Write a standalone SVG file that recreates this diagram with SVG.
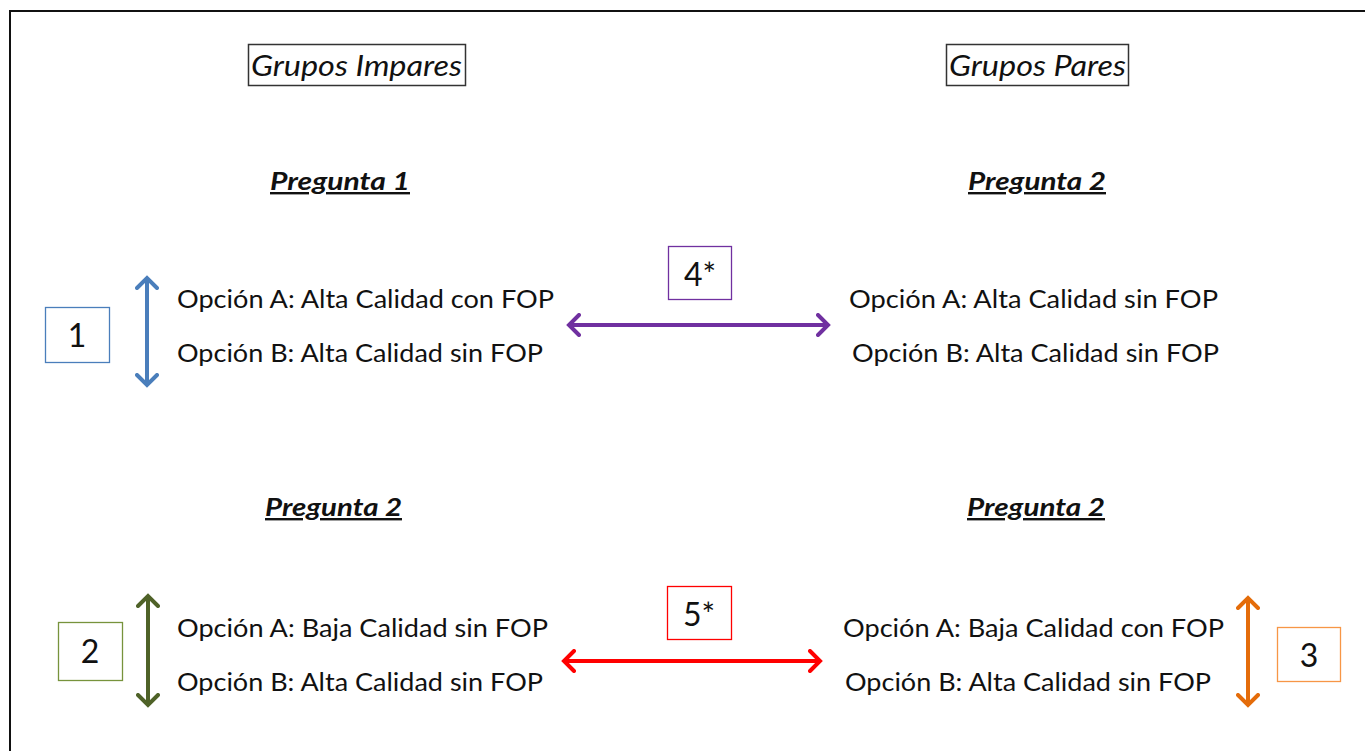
<svg xmlns="http://www.w3.org/2000/svg" width="1365" height="751" viewBox="0 0 1365 751">
<style>
.opt{font-family:Lato,"Open Sans","Liberation Sans",sans-serif;font-size:25px;fill:#111}
.hdr{font-family:Lato,"Open Sans","Liberation Sans",sans-serif;font-size:28px;font-style:italic;fill:#111}
.q{font-family:Lato,"Open Sans","Liberation Sans",sans-serif;font-size:24px;font-style:italic;font-weight:bold;fill:#111;text-decoration:underline}
.num{font-family:Lato,"Open Sans","Liberation Sans",sans-serif;font-size:32px;fill:#111;text-anchor:middle}
.box{fill:#fff;stroke-width:1.3}
.arr{fill:none;stroke-width:4}
</style>
<defs>
<marker id="mBlue" viewBox="-12 -12 24 24" markerUnits="userSpaceOnUse" markerWidth="24" markerHeight="24" refX="0" refY="0" orient="auto-start-reverse"><path d="M-10,-10 L0,0 L-10,10" fill="none" stroke="#4A7EBB" stroke-width="4" stroke-linecap="round"/></marker>
<marker id="mPurple" viewBox="-12 -12 24 24" markerUnits="userSpaceOnUse" markerWidth="24" markerHeight="24" refX="0" refY="0" orient="auto-start-reverse"><path d="M-10,-10 L0,0 L-10,10" fill="none" stroke="#7030A0" stroke-width="4" stroke-linecap="round"/></marker>
<marker id="mGreen" viewBox="-12 -12 24 24" markerUnits="userSpaceOnUse" markerWidth="24" markerHeight="24" refX="0" refY="0" orient="auto-start-reverse"><path d="M-10,-10 L0,0 L-10,10" fill="none" stroke="#4F6228" stroke-width="4" stroke-linecap="round"/></marker>
<marker id="mRed" viewBox="-12 -12 24 24" markerUnits="userSpaceOnUse" markerWidth="24" markerHeight="24" refX="0" refY="0" orient="auto-start-reverse"><path d="M-10,-10 L0,0 L-10,10" fill="none" stroke="#FF0000" stroke-width="4" stroke-linecap="round"/></marker>
<marker id="mOrange" viewBox="-12 -12 24 24" markerUnits="userSpaceOnUse" markerWidth="24" markerHeight="24" refX="0" refY="0" orient="auto-start-reverse"><path d="M-10,-10 L0,0 L-10,10" fill="none" stroke="#E46C0A" stroke-width="4" stroke-linecap="round"/></marker>
</defs>
<rect width="1365" height="751" fill="#fff"/>
<path d="M10,760 L10,11 L1375,11" fill="none" stroke="#111" stroke-width="2"/>

<g id="hdr-impares">
<rect x="248.5" y="44.5" width="217" height="41" fill="#fff" stroke="#333" stroke-width="1.5"/>
<text class="hdr" x="251" y="76" textLength="211" lengthAdjust="spacingAndGlyphs">Grupos Impares</text>
</g>
<g id="hdr-pares">
<rect x="946.5" y="44.5" width="182" height="41" fill="#fff" stroke="#333" stroke-width="1.5"/>
<text class="hdr" x="949" y="76" textLength="177" lengthAdjust="spacingAndGlyphs">Grupos Pares</text>
</g>

<g id="q1-left"><text class="q" x="270" y="190" textLength="140" lengthAdjust="spacingAndGlyphs">Pregunta 1</text></g>
<g id="q2-topright"><text class="q" x="968" y="190" textLength="138" lengthAdjust="spacingAndGlyphs">Pregunta 2</text></g>
<g id="q2-bottomleft"><text class="q" x="265" y="516" textLength="137" lengthAdjust="spacingAndGlyphs">Pregunta 2</text></g>
<g id="q2-bottomright"><text class="q" x="967" y="516" textLength="138" lengthAdjust="spacingAndGlyphs">Pregunta 2</text></g>

<g id="opts-tl">
<text class="opt" x="177" y="308" textLength="377" lengthAdjust="spacingAndGlyphs">Opción A: Alta Calidad  con FOP</text>
<text class="opt" x="177" y="362" textLength="366" lengthAdjust="spacingAndGlyphs">Opción B: Alta Calidad sin FOP</text>
</g>
<g id="opts-tr">
<text class="opt" x="849" y="308" textLength="369" lengthAdjust="spacingAndGlyphs">Opción A: Alta Calidad sin FOP</text>
<text class="opt" x="852" y="362" textLength="367" lengthAdjust="spacingAndGlyphs">Opción B: Alta Calidad sin FOP</text>
</g>
<g id="opts-bl">
<text class="opt" x="177" y="637" textLength="371" lengthAdjust="spacingAndGlyphs">Opción A: Baja Calidad sin FOP</text>
<text class="opt" x="177" y="691" textLength="366" lengthAdjust="spacingAndGlyphs">Opción B: Alta Calidad sin FOP</text>
</g>
<g id="opts-br">
<text class="opt" x="843" y="637" textLength="381" lengthAdjust="spacingAndGlyphs">Opción A: Baja Calidad con FOP</text>
<text class="opt" x="845" y="691" textLength="366" lengthAdjust="spacingAndGlyphs">Opción B: Alta Calidad sin FOP</text>
</g>

<g id="box1">
<rect class="box" x="45.5" y="307.5" width="64" height="55" stroke="#4A7EBB"/>
<text class="num" x="77" y="347">1</text>
</g>
<g id="box4">
<rect class="box" x="668.5" y="246.5" width="63" height="53" stroke="#7030A0"/>
<text class="num" x="700" y="286">4*</text>
</g>
<g id="box2">
<rect class="box" x="58.5" y="622.5" width="64" height="58" stroke="#77933C"/>
<text class="num" x="90" y="663">2</text>
</g>
<g id="box5">
<rect class="box" x="667.5" y="586.5" width="64" height="53" stroke="#FF0000"/>
<text class="num" x="699" y="626">5*</text>
</g>
<g id="box3">
<rect class="box" x="1277.5" y="627.5" width="63" height="54" stroke="#F79646"/>
<text class="num" x="1309" y="667">3</text>
</g>

<g id="connectors">
<line class="arr" x1="147" y1="278" x2="147" y2="385" stroke="#4A7EBB" marker-start="url(#mBlue)" marker-end="url(#mBlue)"/>
<line class="arr" x1="569" y1="325" x2="828" y2="325" stroke="#7030A0" marker-start="url(#mPurple)" marker-end="url(#mPurple)"/>
<line class="arr" x1="148" y1="596" x2="148" y2="705" stroke="#4F6228" marker-start="url(#mGreen)" marker-end="url(#mGreen)"/>
<line class="arr" x1="564" y1="661" x2="820" y2="661" stroke="#FF0000" marker-start="url(#mRed)" marker-end="url(#mRed)"/>
<line class="arr" x1="1248" y1="598" x2="1248" y2="705" stroke="#E46C0A" marker-start="url(#mOrange)" marker-end="url(#mOrange)"/>
</g>
</svg>
